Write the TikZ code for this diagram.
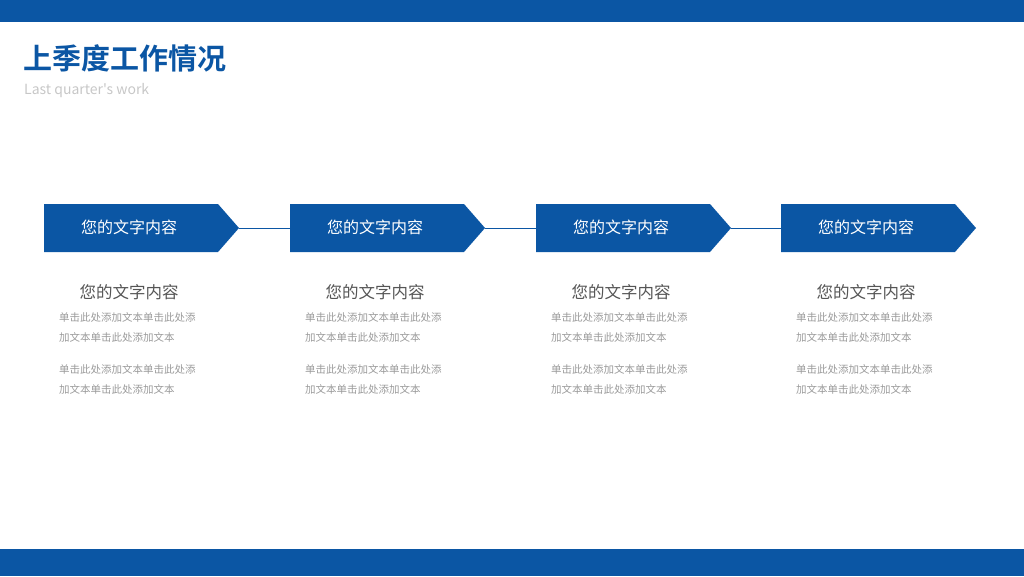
\documentclass[tikz,border=0pt]{standalone}
\usepackage{fontspec}
\newfontfamily\cjk{Noto Sans CJK SC}
\newfontfamily\cjkb{Noto Sans CJK SC Bold}
\definecolor{mainblue}{HTML}{0B56A4}
\definecolor{headgray}{HTML}{555555}
\definecolor{bodygray}{HTML}{9A9A9A}
\begin{document}
\begin{tikzpicture}[x=1pt,y=-1pt,
  boxtext/.style={font=\cjk\fontsize{16}{16}\selectfont,text=white},
  headtext/.style={font=\cjk\fontsize{16.5}{16.5}\selectfont,text=headgray},
  bodytext/.style={font=\cjk\fontsize{10.5}{10.5}\selectfont,text=bodygray,anchor=west,inner sep=0pt},
  link/.style={draw=mainblue,line width=0.8pt}]
\useasboundingbox (0,0) rectangle (1024,576);
\fill[mainblue] (0,0) rectangle (1024,22);
\fill[mainblue] (0,549) rectangle (1024,576);
\node[anchor=west,inner sep=0pt,font=\cjkb\fontsize{29}{29}\selectfont,text=mainblue] (title) at (23,58) {上季度工作情况};
\node[anchor=west,inner sep=0pt,font=\cjk\fontsize{14}{14}\selectfont,text=black!22] (sub) at (24,91) {Last quarter's work};
\foreach \i/\x in {1/44,2/290,3/536,4/781}{
  \fill[mainblue] (\x,204) -- (\x+174,204) -- (\x+195,228) -- (\x+174,252) -- (\x,252) -- cycle;
  \coordinate (L\i) at (\x,228);
  \coordinate (R\i) at (\x+195,228);
  \node[boxtext] (b\i) at (\x+85,227) {您的文字内容};
  \node[headtext] (h\i) at (\x+85,292) {您的文字内容};
  \node[bodytext] (p\i a) at (\x+15,317) {单击此处添加文本单击此处添};
  \node[bodytext] (p\i b) at (\x+15,337) {加文本单击此处添加文本};
  \node[bodytext] (p\i c) at (\x+15,369) {单击此处添加文本单击此处添};
  \node[bodytext] (p\i d) at (\x+15,389) {加文本单击此处添加文本};
}
\draw[link] (R1) -- (L2);
\draw[link] (R2) -- (L3);
\draw[link] (R3) -- (L4);
\end{tikzpicture}
\end{document}
